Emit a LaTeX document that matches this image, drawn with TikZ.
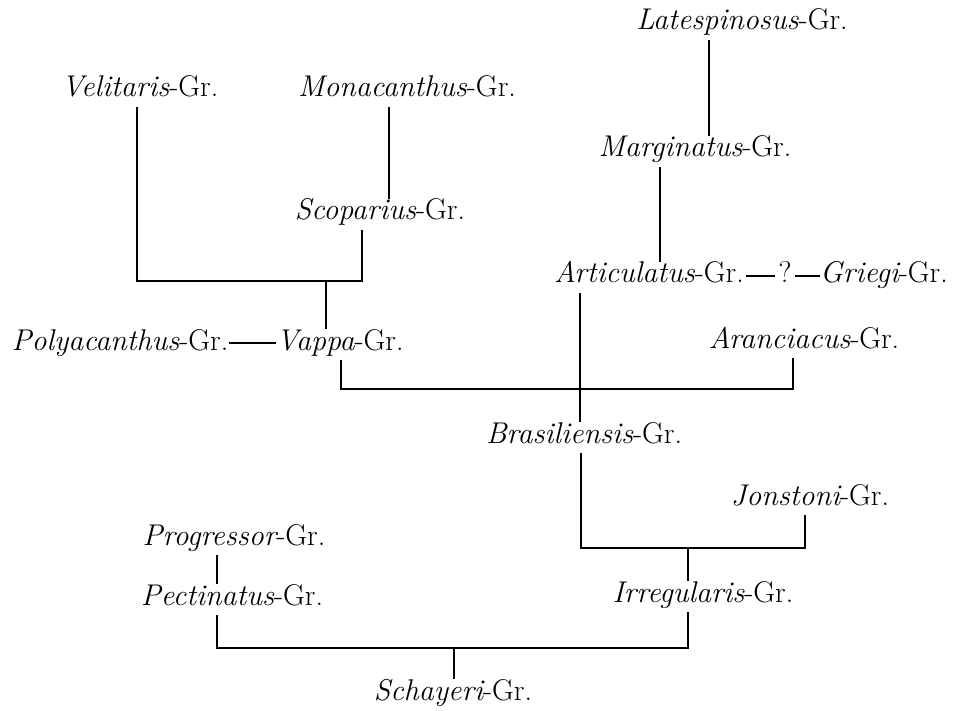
\documentclass[tikz,border=0pt]{standalone}
\usepackage{fontspec}
\newcommand{\gname}[1]{{\itshape\addfontfeature{LetterSpace=6}#1}-Gr.}
\newcommand{\grfont}{\fontsize{30}{36}\selectfont}
\begin{document}
\begin{tikzpicture}[x=1pt,y=-1pt,
  grp/.style={anchor=base,inner xsep=0pt,inner ysep=5pt,text height=16pt,text depth=5pt,font=\grfont},
  link/.style={line width=1.7pt,line cap=butt},
  dashlink/.style={line width=1.4pt}]
\useasboundingbox (0,0) rectangle (955,711);
% nodes
\node[grp] (lat) at (742,30) {\gname{Latespinosus}};
\node[grp] (vel) at (140,97) {\gname{Velitaris}};
\node[grp] (mon) at (407,97) {\gname{Monacanthus}};
\node[grp] (mar) at (695,157) {\gname{Marginatus}};
\node[grp] (sco) at (380,220) {\gname{Scoparius}};
\node[grp] (art) at (649,283) {\gname{Articulatus}};
\node[grp] (q) at (785,283) {?};
\node[grp] (gri) at (884,283) {\gname{Griegi}};
\node[grp] (pol) at (120,350) {\gname{Polyacanthus}};
\node[grp] (vap) at (340,350) {\gname{Vappa}};
\node[grp] (ara) at (804,348) {\gname{Aranciacus}};
\node[grp] (bra) at (584,443) {\gname{Brasiliensis}};
\node[grp] (jon) at (810,505) {\gname{Jonstoni}};
\node[grp] (pro) at (234,545) {\gname{Progressor}};
\node[grp] (pec) at (232,605) {\gname{Pectinatus}};
\node[grp] (irr) at (703,602) {\gname{Irregularis}};
\node[grp] (sch) at (453,700) {\gname{Schayeri}};
% line positions
\coordinate (xlat) at (709,0);
\coordinate (xmar) at (660,0);
\coordinate (xart) at (580,0);
\coordinate (xmon) at (389,0);
\coordinate (xvel) at (137,0);
\coordinate (xsco) at (362,0);
\coordinate (xvapU) at (326,0);
\coordinate (xvapD) at (341,0);
\coordinate (xara) at (793,0);
\coordinate (xbra) at (581,0);
\coordinate (xjon) at (805,0);
\coordinate (xirr) at (688,0);
\coordinate (xpec) at (217,0);
\coordinate (xsch) at (454,0);
\coordinate (y1) at (0,281);
\coordinate (y2) at (0,389);
\coordinate (y3) at (0,548);
\coordinate (y4) at (0,648);
% connectors
\draw[link] (lat.south -| xlat) -- (mar.north -| xlat);
\draw[link] (mar.south -| xmar) -- (art.north -| xmar);
\draw[link] (mon.south -| xmon) -- (sco.north -| xmon);
\draw[link] (vel.south -| xvel) -- (xvel |- y1) -- (xsco |- y1) -- (sco.south -| xsco);
\draw[link] (xvapU |- y1) -- (vap.north -| xvapU);
\draw[link] (vap.south -| xvapD) -- (xvapD |- y2) -- (xara |- y2) -- (ara.south -| xara);
\draw[link] (art.south -| xart) -- (bra.north -| xart);
\draw[link] (bra.south -| xbra) -- (xbra |- y3) -- (xjon |- y3) -- (jon.south -| xjon);
\draw[link] (xirr |- y3) -- (irr.north -| xirr);
\draw[link] (pro.south -| xpec) -- (pec.north -| xpec);
\draw[link] (pec.south -| xpec) -- (xpec |- y4) -- (xirr |- y4) -- (irr.south -| xirr);
\draw[link] (xsch |- y4) -- (sch.north -| xsch);
\draw[dashlink] ([yshift=1.5pt]pol.east) -- ([yshift=1.5pt]vap.west);
\draw[dashlink] ([yshift=1.5pt,xshift=2pt]art.east) -- ([yshift=1.5pt,xshift=-3pt]q.west);
\draw[dashlink] ([yshift=1.5pt,xshift=3pt]q.east) -- ([yshift=1.5pt]gri.west);
\end{tikzpicture}
\end{document}
